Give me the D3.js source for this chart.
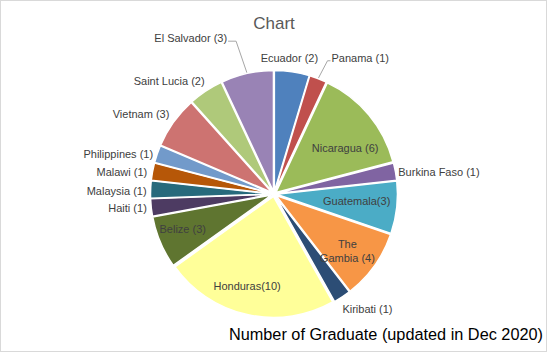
<!DOCTYPE html>
<html><head><meta charset="utf-8">
<script src="https://cdn.jsdelivr.net/npm/d3@7"></script>
<style>html,body{margin:0;padding:0;background:#fff;}svg{display:block;}</style>
</head><body>
<svg id="chart" width="548" height="354"></svg>
<script>
// ---- data ----
const countries = ["Ecuador","Panama","Nicaragua","Burkina Faso","Guatemala","The Gambia","Kiribati","Honduras","Belize","Haiti","Malaysia","Malawi","Philippines","Vietnam","Saint Lucia","El Salvador"];
const graduates = [2,1,6,1,3,4,1,10,3,1,1,1,1,3,2,3];
const sliceColors = ["#4F81BD","#C0504D","#9BBB59","#8064A2","#4BACC6","#F79646","#2C4D75","#FFFF99","#5F7530","#4D3B62","#276A7C","#B65708","#729ACA","#CD7371","#AFC97A","#9983B5"];
const chartTitle = "Chart";
const subTitle = "Number of Graduate (updated in Dec 2020)";

// ---- label layout (placement mode + small nudges) ----
const labelMode = ["out","out","in","out","in","in","out","in","in","out","out","out","out","out","out","out"];
const labelNudge = [[-4,-4],[10,-12],[6,8],[-6.5,2],[-1.5,-2],[4.5,7.7],[-5,4],[-8.5,9.3],[-13.3,2.2],[5,0],[5.5,1.5],[4,2.5],[5,3],[3.5,-2.5],[4,-2],[-18,-26]];
const leaderLines = {"Panama":true,"El Salvador":true};
const labelLines = {"The Gambia":["The","Gambia (4)"]};

const W = 548, H = 354;
const cx = 274, cy = 194, r = 121, explode = 2.5;
const svg = d3.select("#chart");

svg.append("rect").attr("x",0.5).attr("y",0.5).attr("width",W-2).attr("height",H-3)
  .attr("fill","#fff").attr("stroke","#d9d9d9").attr("stroke-width",1);

const data = countries.map((c,i)=>({name:c, value:graduates[i], i}));
const pie = d3.pie().value(d=>d.value).sort(null);
const arcs = pie(data);
const arcGen = d3.arc().innerRadius(0).outerRadius(r);

const g = svg.append("g").attr("transform",`translate(${cx},${cy})`);
g.selectAll("path.slice").data(arcs).enter().append("path")
  .attr("class","slice")
  .attr("d",arcGen)
  .attr("fill",(d,i)=>sliceColors[i])
  .attr("stroke","#fff").attr("stroke-width",1.5).attr("stroke-linejoin","round")
  .attr("transform",d=>{const a=(d.startAngle+d.endAngle)/2; return `translate(${explode*Math.sin(a)},${-explode*Math.cos(a)})`;});

// title
svg.append("text").attr("x",274).attr("y",29).attr("text-anchor","middle")
  .attr("font-family","Liberation Sans, Arial, sans-serif").attr("font-size",17).attr("fill","#595959").text(chartTitle);
svg.append("text").attr("x",543).attr("y",340).attr("text-anchor","end")
  .attr("font-family","Liberation Sans, Arial, sans-serif").attr("font-size",16.3).attr("fill","#000").text(subTitle);

// labels
const lg = g.append("g").attr("font-family","Liberation Sans, Arial, sans-serif").attr("font-size",11).attr("fill","#404040");
arcs.forEach((d,i)=>{
  const a=(d.startAngle+d.endAngle)/2, s=Math.sin(a), c=Math.cos(a);
  const label = `${d.data.name} (${d.data.value})`.replace("Honduras (10)","Honduras(10)").replace("Guatemala (3)","Guatemala(3)");
  const [nx,ny]=labelNudge[i];
  let x,y,anchor;
  if(labelMode[i]==="in"){
    const R=r*0.7; x=R*s+nx; y=-R*c+ny; anchor="middle";
  } else {
    const R=r+12; x=R*s+nx; y=-R*c+ny;
    anchor = s>0.2?"start":(s<-0.2?"end":"middle");
  }
  const lines = labelLines[d.data.name] || [label];
  const t = lg.append("text").attr("text-anchor",anchor).attr("x",x).attr("y",y);
  lines.forEach((ln,k)=>{
    t.append("tspan").attr("x",x).attr("dy", k===0 ? (0.35-(lines.length-1)*0.65)+"em" : "1.3em").text(ln);
  });
  if(leaderLines[d.data.name]){
    const w = t.node().getComputedTextLength();
    const p0=[(r+explode)*s,-(r+explode)*c];
    let edge = anchor==="start"? x-1 : (anchor==="end"? x+1 : x);
    const elbow=[anchor==="start"? edge-3 : edge+8, y+3];
    g.insert("path",":first-child").attr("d",d3.line()([p0,elbow,[edge,y+3]]))
      .attr("fill","none").attr("stroke","#a6a6a6").attr("stroke-width",1);
  }
});
</script>
</body></html>
